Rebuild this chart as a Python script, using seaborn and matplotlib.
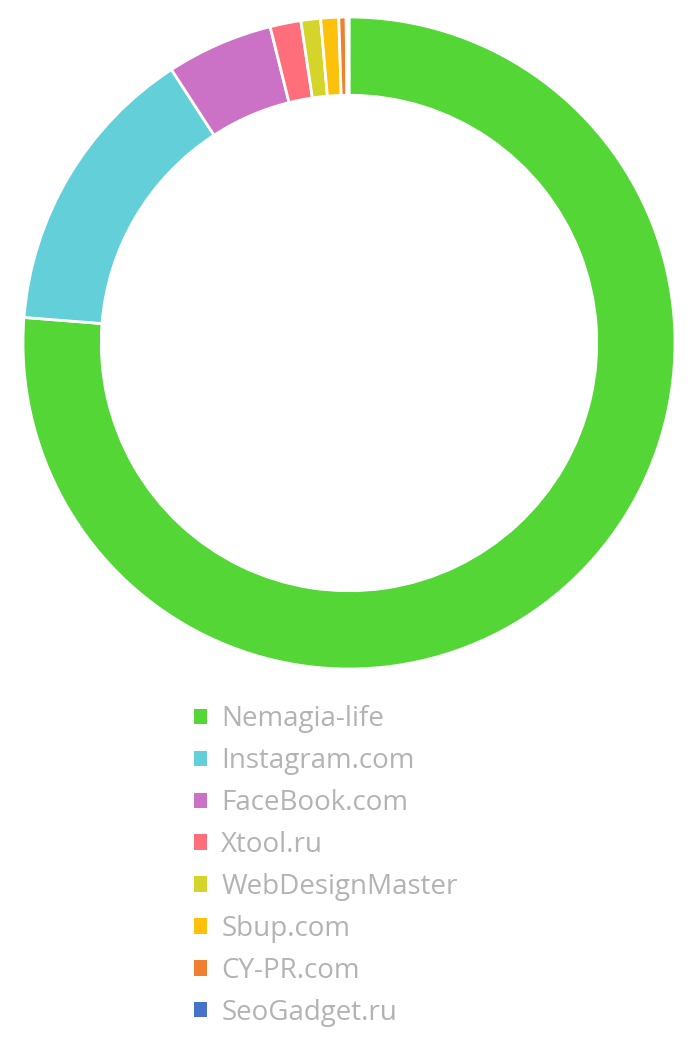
import matplotlib
matplotlib.use("Agg")
import matplotlib.pyplot as plt
import seaborn as sns

sources = ["Nemagia-life", "Instagram.com", "FaceBook.com", "Xtool.ru",
           "WebDesignMaster", "Sbup.com", "CY-PR.com", "SeoGadget.ru"]
shares = [274.5, 52.5, 19, 5.5, 3.5, 3.2, 1.3, 0.5]
colors = ["#53d636", "#62cfd9", "#cc72c6", "#fe6f7b",
          "#d5d42a", "#fdc10b", "#f07f30", "#4673c9"]

sns.set_theme(style="white")
plt.rcParams["font.family"] = ["Open Sans", "DejaVu Sans"]

fig = plt.figure(figsize=(7, 10.5), dpi=100)
ax = fig.add_axes([23 / 700, 1 - 669 / 1050, 652 / 700, 652 / 1050])

wedges, _ = ax.pie(shares, colors=colors, startangle=90, counterclock=False,
                   radius=1, wedgeprops=dict(width=0.24, edgecolor="white", linewidth=2))
ax.set_xlim(-1, 1)
ax.set_ylim(-1, 1)
ax.set_aspect("equal")
ax.axis("off")

leg = fig.legend(wedges, sources, loc="center left",
                 bbox_to_anchor=(194 / 700, 1 - 866 / 1050),
                 frameon=False, fontsize=20, labelcolor="#b3b3b3",
                 handlelength=0.48, handleheight=0.48, handletextpad=0.5,
                 labelspacing=0.5, borderpad=0, borderaxespad=0)
for h in leg.legend_handles:
    h.set_edgecolor("none")

fig.savefig("out.png", dpi=100)
